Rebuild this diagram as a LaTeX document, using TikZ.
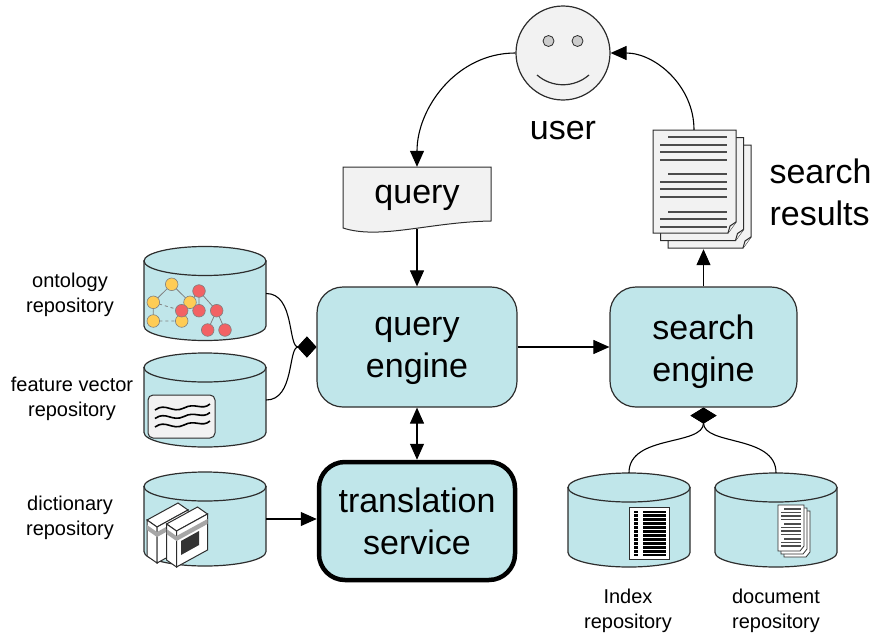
\documentclass[tikz,border=0pt]{standalone}
\usepackage{fontspec}
\setmainfont{Liberation Sans}
\usepackage{xcolor}
\definecolor{engine}{RGB}{192, 230, 234}
\definecolor{paper}{RGB}{242, 242, 242}
\definecolor{outline}{RGB}{45, 45, 45}
\definecolor{ontoyellow}{RGB}{255, 204, 85}
\definecolor{ontored}{RGB}{242, 98, 100}
\usetikzlibrary{arrows.meta,positioning}

\begin{document}
\begin{tikzpicture}[x=1pt, y=-1pt,
  enginebox/.style={draw=outline, fill=engine, line width=1.2pt, rounded corners=26pt, minimum height=120pt, align=center, inner sep=0pt, font=\fontsize{34}{42}\selectfont},
  repo/.style={draw=outline, fill=engine, line width=1.2pt},
  bigtext/.style={font=\fontsize{34}{42}\selectfont, align=left},
  smalltext/.style={font=\fontsize{20}{25}\selectfont, align=center},
  sheet/.style={draw=outline, fill=paper, line width=1pt},
  textline/.style={line width=2.2pt, gray!60!black},
  arrow/.style={-{Triangle[length=16pt,width=14pt]}, line width=1.1pt},
  merge/.style={-{Diamond[length=19pt,width=21pt]}, line width=1.1pt}
]
\useasboundingbox (0,0) rectangle (880,637);

% user
\node[circle, draw=outline, fill=paper, line width=1.2pt, minimum size=94pt, inner sep=0pt] (user) at (563,53) {};
\filldraw[fill=gray!40, draw=outline, line width=0.8pt] (548.5,41) circle (5.5) (577.5,41) circle (5.5);
\draw[outline, line width=1.2pt] (537,75) .. controls (552,88) and (574,88) .. (589,75);
\node[bigtext] (userlabel) at (563,131) {user};

% query document
\draw[sheet] (343,167) -- (491,167) -- (491,221) .. controls (430,222) and (380,240) .. (343,228) -- cycle;
\node[bigtext, inner sep=0pt, minimum width=148pt, minimum height=62pt] (query) at (417,198) {query};

% search results
\foreach \d in {15,7.5,0} {
  \draw[sheet] (653+\d,130+\d) -- (736+\d,130+\d) -- (736+\d,222+\d) -- (728+\d,233+\d) -- (653+\d,233+\d) -- cycle;
  \draw[sheet] (736+\d,222+\d) -- (730+\d,226+\d) -- (728+\d,233+\d);
}
\foreach \y/\a in {136.7/668, 145/660, 152.3/660, 160/660, 174.3/668, 181.7/660, 189.3/660, 196.7/660, 211.7/668, 219/660, 226.7/660}
  \draw[textline] (\a,\y) -- (727,\y);
\node[inner sep=0pt, minimum width=98pt, minimum height=119pt] (results) at (702,189.5) {};
\node[bigtext, anchor=west] (reslabel) at (766,192) {search\\results};

% engines
\node[enginebox, minimum width=200pt, text height=69pt] (qe) at (417,347) {query\\engine};
\node[enginebox, minimum width=187pt, text height=76pt] (se) at (703.5,347) {search\\engine};
\node[enginebox, minimum width=196pt, minimum height=118pt, draw=black, line width=4.5pt] (ts) at (417,521) {translation\\service};

% repositories: body, then the top face
\foreach \n/\x/\y in {onto/205/293.5, fv/205/400, dict/205/519, idx/629/520, doc/776/520} {
  \draw[repo] (\x-61,\y-32.5) -- (\x-61,\y+32.5) arc[start angle=180, end angle=0, x radius=61, y radius=14.5] -- (\x+61,\y-32.5) -- cycle;
  \draw[repo] (\x,\y-32.5) ellipse[x radius=61, y radius=14.5];
  \node[inner sep=0pt, minimum width=122pt, minimum height=94pt] (\n) at (\x,\y) {};
}

\node[smalltext] (ontolabel) at (70,295) {ontology\\repository};
\node[smalltext] (fvlabel) at (72,399) {feature vector\\repository};
\node[smalltext] (dictlabel) at (70,518) {dictionary\\repository};
\node[smalltext] (idxlabel) at (628,611) {Index\\repository};
\node[smalltext] (doclabel) at (776,611) {document\\repository};

% ontology graph
\foreach \n/\x/\y in {y1/171.7/284.3, y2/153.3/302.3, y3/153.3/321, y4/181.7/321, y5/190/302.3,
  r1/199/291, r2/181.7/310.7, r3/199/310.7, r4/216.7/310.7, r5/207.7/330, r6/225/330}
  \coordinate (\n) at (\x,\y);
\draw[gray, line width=0.8pt] (y1) -- (y2) -- (y3) (y1) -- (y5) -- (y4) (y5) -- (r1) -- (r3) (r1) -- (r4) -- (r5) (r4) -- (r6) (y5) -- (r2);
\draw[gray, line width=0.8pt, dashed] (y3) -- (y4) (y2) -- (r2);
\foreach \n in {y1,y2,y3,y4,y5}
  \filldraw[fill=ontoyellow, draw=gray, line width=0.6pt] (\n) circle (6.3);
\foreach \n in {r1,r2,r3,r4,r5,r6}
  \filldraw[fill=ontored, draw=gray, line width=0.6pt] (\n) circle (6.3);

% feature vectors
\draw[sheet, rounded corners=5pt] (148,395) rectangle (215,438);
\foreach \y in {408,416.5,425}
  \draw[line width=1.6pt] (155,\y+2) .. controls (166,\y-6) and (172,\y+6) .. (184,\y) .. controls (195,\y-6) and (202,\y+3) .. (210,\y-4);

% dictionary volumes
\foreach \dx/\dy in {0/0, 19.5/4} {
  \draw[sheet, fill=white] (147+\dx,520+\dy) -- (178+\dx,503+\dy) -- (188+\dx,510+\dy) -- (157+\dx,527+\dy) -- cycle;
  \draw[sheet, fill=white] (147+\dx,520+\dy) -- (157+\dx,527+\dy) -- (157+\dx,563+\dy) -- (147+\dx,556+\dy) -- cycle;
  \draw[sheet, fill=white] (157+\dx,527+\dy) -- (188+\dx,510+\dy) -- (188+\dx,546+\dy) -- (157+\dx,563+\dy) -- cycle;
  \fill[gray!70] (147+\dx,525+\dy) -- (157+\dx,532+\dy) -- (188+\dx,515+\dy) -- (188+\dx,520+\dy) -- (157+\dx,537+\dy) -- (147+\dx,530+\dy) -- cycle;
}
\fill[black!80] (181,541) -- (199,531) -- (199,545) -- (181,555) -- cycle;

% index sheet
\draw[sheet, fill=white] (629,507) rectangle (669,559);
\foreach \i in {0,...,11} {
  \fill (634,510.5+\i*3.95) rectangle (638,513+\i*3.95);
  \fill (643,510.5+\i*3.95) rectangle (666,513+\i*3.95);
}

% document stack
\foreach \d in {6,3,0}
  \draw[sheet, fill=white, line width=0.8pt] (778+\d,505+\d) -- (804+\d,505+\d) -- (804+\d,546+\d) -- (800+\d,551+\d) -- (778+\d,551+\d) -- cycle;
\foreach \y/\a in {509/784, 512.5/781, 516/781, 519.5/781, 524/784, 527.5/781, 531/781, 534.5/781, 539/784, 542.5/781, 546/781}
  \draw[gray!60!black, line width=1.3pt] (\a,\y) -- (801,\y);

% connectors
\draw[arrow] (user.west) to[out=180, in=90] (query.north);
\draw[arrow] ([xshift=-8pt]results.north) to[out=90, in=0] (user.east);
\draw[arrow] (query.south) -- (qe.north);
\draw[arrow] (qe.east) -- (se.west);
\draw[arrow] (se.north) -- (se.north |- results.south);
\draw[{Triangle[length=16pt,width=14pt]}-{Triangle[length=16pt,width=14pt]}, line width=1.1pt] (qe.south) -- (ts.north);
\draw[merge] (onto.east) to[out=0, in=180] (qe.west);
\draw[merge] (fv.east) to[out=0, in=180] (qe.west);
\draw[arrow] (dict.east) -- (dict.east -| ts.west);
\draw[-{Diamond[length=16pt,width=26pt]}, line width=1.1pt] (idx.north) to[out=90, in=-90] (se.south);
\draw[-{Diamond[length=16pt,width=26pt]}, line width=1.1pt] (doc.north) to[out=90, in=-90] (se.south);
\end{tikzpicture}
\end{document}
